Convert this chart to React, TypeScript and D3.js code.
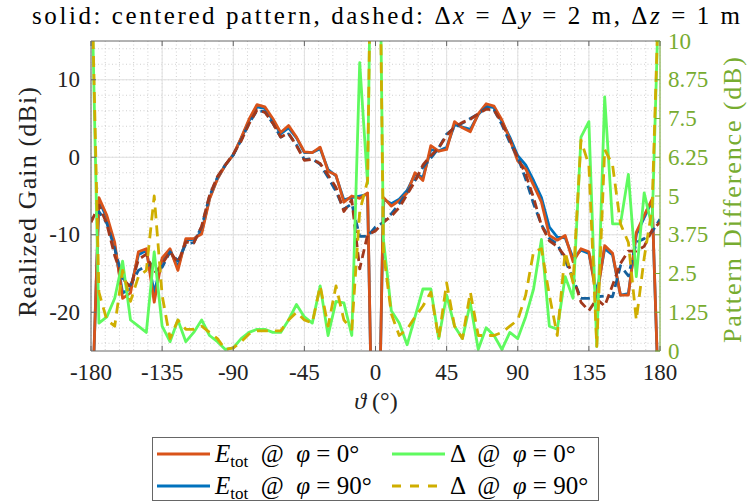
import * as d3 from "d3";

// polar angle samples (deg)
const thetaDeg = d3.range(-180, 181, 5);

// realized gain (dBi), centered pattern
const gainCentPhi0 = [
  -37, -5.2, -7.5, -11, -18.2, -17.5, -12.2, -11.8, -18.7, -13, -11.8, -14.6, -10.5, -10.5, -9.9, -5.4, -2.8, -1.0,
  0.3, 2.5, 4.9, 6.8, 6.5, 5.0, 3.2, 4.1, 2.6, 0.7, 0.6, 1.3, -1.8, -2.3, -5.8, -5.0, -5.3, -4.6,
  -60,
  -5.2, -6.3, -5.6, -4.6, -2.0, -3.0, 1.5, 0.8, 1.0, 4.6, 3.8, 3.3, 5.6, 6.9, 6.6, 4.8, 2.3, -0.5,
  -1.5, -3.6, -5.8, -10.1, -10.7, -10.1, -13.5, -11.8, -12.2, -18.2, -11.4, -12.4, -17.8, -17.8, -9.7, -7.5, -5.4, -37,
];
const gainCentPhi90 = [
  -37, -5.6, -7.8, -11.5, -17.5, -17.0, -12.6, -12.0, -17.5, -13.2, -12.0, -14.2, -10.7, -10.6, -9.6, -5.3, -2.7, -1.0,
  0.3, 2.4, 4.7, 6.5, 6.3, 4.8, 3.0, 3.8, 2.5, 0.6, 0.6, 1.1, -1.6, -2.4, -5.5, -5.2, -5.0, -4.8,
  -60,
  -5.4, -6.0, -5.4, -4.3, -2.2, -2.6, 1.0, 0.8, 1.3, 4.2, 3.9, 3.6, 5.5, 6.6, 6.4, 4.6, 2.6, 0.2,
  -1.0, -3.0, -5.2, -9.0, -10.3, -10.4, -13.0, -12.0, -12.4, -17.5, -11.8, -12.6, -17.8, -17.6, -10.0, -7.8, -5.6, -37,
];
// realized gain (dBi), shifted pattern (dashed)
const gainShiftPhi0 = [
  -8.4, -6.2, -8.6, -12.7, -15.6, -16.8, -13.2, -12.5, -15.0, -13.8, -12.2, -13.6, -10.9, -11.1, -8.9, -4.9, -2.5, -1.0,
  0.4, 2.1, 4.3, 6.1, 5.8, 4.4, 2.6, 3.1, 1.5, -0.4, -0.3, -0.8, -2.3, -3.9, -7.0, -5.5, -14.4, -10.0,
  -9.5,
  -8.4, -7.6, -6.5, -4.8, -3.1, -1.0, 0.2, 1.2, 2.8, 3.9, 4.5, 4.9, 5.6, 6.2, 6.1, 4.4, 2.2, 0.0,
  -2.2, -5.2, -8.8, -10.8, -11.5, -12.8, -15.4, -18.7, -19.8, -18.3, -19.2, -16.5, -13.7, -12.1, -12.1, -11.5, -9.4, -8.4,
];
const gainShiftPhi90 = [
  -8.0, -7.0, -8.5, -11.8, -15.6, -16.5, -14.6, -14.0, -13.7, -14.2, -12.2, -13.4, -11.2, -11.0, -9.0, -5.0, -2.6, -1.0,
  0.3, 2.2, 4.4, 6.0, 5.9, 4.4, 2.6, 3.0, 1.6, -0.3, -0.2, -0.9, -2.6, -4.4, -6.7, -6.0, -10.2, -10.2,
  -9.0,
  -8.4, -7.3, -6.0, -4.5, -3.0, -1.3, -0.1, 1.2, 3.0, 3.8, 4.4, 5.0, 5.6, 6.4, 6.1, 4.2, 1.9, 0.0,
  -2.8, -6.0, -8.7, -10.5, -11.2, -13.3, -15.7, -18.2, -18.2, -18.0, -17.9, -18.0, -14.0, -15.3, -11.0, -10.5, -9.6, -8.0,
];
// pattern difference (dB)
const diffPhi0 = [
  13, 0.9, 1.1, 1.7, 2.9, 1.0, 0.8, 0.6, 3.2, 0.8, 0.3, 1.0, 0.3, 0.6, 1.0, 0.5, 0.3, 0.05,
  0.1, 0.4, 0.6, 0.7, 0.7, 0.6, 0.6, 1.0, 1.5, 1.1, 0.9, 2.1, 0.5, 1.6, 1.55, 0.5, 9.3, 5.4,
  25,
  3.6, 1.3, 0.9, 0.2, 1.1, 2.0, 2.0, 0.4, 1.8, 0.8, 0.4, 1.55, 0.05, 0.75, 0.5, 0.05, 0.6, 0.4,
  1.1, 2.0, 3.6, 0.8, 0.7, 2.4, 1.7, 6.9, 7.4, 0.15, 8.2, 4.1, 4.1, 5.7, 2.4, 5.1, 4.0, 13,
];
const diffPhi90 = [
  13, 1.9, 1.0, 0.8, 2.6, 1.6, 2.4, 2.6, 5.0, 1.8, 0.4, 1.0, 0.7, 0.7, 0.8, 0.6, 0.4, 0.05,
  0.1, 0.3, 0.55, 0.65, 0.65, 0.65, 0.65, 1.0, 1.25, 1.0, 0.9, 2.1, 0.8, 2.1, 1.0, 0.7, 4.5, 5.5,
  25,
  3.2, 1.2, 0.5, 0.7, 1.1, 1.45, 1.9, 0.4, 2.2, 0.8, 0.4, 1.9, 0.5, 0.5, 0.5, 0.6, 0.8, 1.0,
  1.8, 3.2, 3.3, 1.8, 0.5, 3.2, 2.2, 6.8, 6.0, 0.15, 6.5, 6.0, 4.1, 3.5, 1.0, 3.0, 4.6, 13,
];

const xTicks = [-180, -135, -90, -45, 0, 45, 90, 135, 180];
const yTicks = [-20, -10, 0, 10];
const y2Ticks = [0, 1.25, 2.5, 3.75, 5, 6.25, 7.5, 8.75, 10];

const ORANGE = "#D95319";
const BLUE = "#0072BD";
const RED_D = "#A2381B";
const BLUE_D = "#15609C";
const GREEN = "#5FFA5F";
const GOLD = "#CFAE00";
const AXGREEN = "#77AC30";
const FONT = "Liberation Serif, DejaVu Serif, serif";

export default function App() {
  const left = 91, right = 660, top = 41, bottom = 351;
  const x = d3.scaleLinear([-180, 180], [left, right]);
  const y = d3.scaleLinear([-25, 15], [bottom, top]);
  const y2 = d3.scaleLinear([0, 10], [bottom, top]);
  const lineL = d3.line<number>((_, i) => x(thetaDeg[i]), (d) => y(d));
  const lineR = d3.line<number>((_, i) => x(thetaDeg[i]), (d) => y2(d));

  const minorX = d3.range(-180, 181, 9);
  const minorY = d3.range(-24, 15, 2);
  const sw = 2.8;

  const legendRow = (ly: number, lx: number, label: any, color: string, dash?: string) => (
    <g>
      <line x1={lx} x2={lx + 53} y1={ly} y2={ly} stroke={color} strokeWidth={3} strokeDasharray={dash} />
      <text x={lx + 58} y={ly + 8} fontSize={25} style={{ whiteSpace: "pre" }}>{label}</text>
    </g>
  );
  const eLabel = (deg: string) => (
    <>
      <tspan fontStyle="italic">E</tspan>
      <tspan fontSize={17} dy={5}>tot</tspan>
      <tspan dy={-5}>{"  @  "}</tspan>
      <tspan fontStyle="italic">φ</tspan>
      <tspan>{" = " + deg + "°"}</tspan>
    </>
  );
  const dLabel = (deg: string) => (
    <>
      <tspan>{"Δ  @  "}</tspan>
      <tspan fontStyle="italic">φ</tspan>
      <tspan>{" = " + deg + "°"}</tspan>
    </>
  );

  return (
    <svg width={749} height={502} style={{ position: "absolute", left: 0, top: 0, background: "#fff", fontFamily: FONT }}>
      <defs>
        <clipPath id="plotClip">
          <rect x={left} y={top} width={right - left} height={bottom - top} />
        </clipPath>
      </defs>

      {/* title */}
      <text x={32} y={24} fontSize={25} textLength={708} lengthAdjust="spacing" style={{ whiteSpace: "pre" }}>
        <tspan>{"solid: centered pattern, dashed: Δ"}</tspan>
        <tspan fontStyle="italic">x</tspan>
        <tspan>{" = Δ"}</tspan>
        <tspan fontStyle="italic">y</tspan>
        <tspan>{" = 2 m, Δ"}</tspan>
        <tspan fontStyle="italic">z</tspan>
        <tspan>{" = 1 m"}</tspan>
      </text>

      {/* grid */}
      <g>
        {minorX.map((v) => (
          <line key={"mx" + v} x1={x(v)} x2={x(v)} y1={top} y2={bottom} stroke="#c4c4c4" strokeWidth={0.8} strokeDasharray="1 2.5" />
        ))}
        {minorY.map((v) => (
          <line key={"my" + v} x1={left} x2={right} y1={y(v)} y2={y(v)} stroke="#c4c4c4" strokeWidth={0.8} strokeDasharray="1 2.5" />
        ))}
        {xTicks.map((v) => (
          <line key={"gx" + v} x1={x(v)} x2={x(v)} y1={top} y2={bottom} stroke="#e0e0e0" strokeWidth={1} />
        ))}
        {yTicks.map((v) => (
          <line key={"gy" + v} x1={left} x2={right} y1={y(v)} y2={y(v)} stroke="#e0e0e0" strokeWidth={1} />
        ))}
      </g>

      {/* data */}
      <g clipPath="url(#plotClip)" fill="none" strokeLinejoin="round">
        <path d={lineL(gainCentPhi90) ?? ""} stroke={BLUE} strokeWidth={sw} />
        <path d={lineL(gainCentPhi0) ?? ""} stroke={ORANGE} strokeWidth={sw} />
        <path d={lineL(gainShiftPhi90) ?? ""} stroke={BLUE_D} strokeWidth={sw} strokeDasharray="9 5" strokeDashoffset={7} />
        <path d={lineL(gainShiftPhi0) ?? ""} stroke={RED_D} strokeWidth={sw} strokeDasharray="9 5" />
        <path d={lineR(diffPhi0) ?? ""} stroke={GREEN} strokeWidth={sw} />
        <path d={lineR(diffPhi90) ?? ""} stroke={GOLD} strokeWidth={sw} strokeDasharray="11 7" />
      </g>

      {/* axes box */}
      <line x1={left} x2={right} y1={top} y2={top} stroke="#666" strokeWidth={1} />
      <line x1={left} x2={right} y1={bottom} y2={bottom} stroke="#666" strokeWidth={1} />
      <line x1={left} x2={left} y1={top} y2={bottom} stroke="#666" strokeWidth={1} />
      <line x1={right} x2={right} y1={top} y2={bottom} stroke={AXGREEN} strokeWidth={1} />

      {/* x ticks */}
      {xTicks.map((v) => (
        <g key={"xt" + v}>
          <line x1={x(v)} x2={x(v)} y1={bottom} y2={bottom - 5} stroke="#666" />
          <line x1={x(v)} x2={x(v)} y1={top} y2={top + 5} stroke="#666" />
          <text x={x(v)} y={bottom + 29} fontSize={23} textAnchor="middle" fill="#222">{v}</text>
        </g>
      ))}
      {/* left ticks */}
      {yTicks.map((v) => (
        <g key={"yt" + v}>
          <line x1={left} x2={left + 5} y1={y(v)} y2={y(v)} stroke="#666" />
          <text x={left - 11} y={y(v) + 7.5} fontSize={23} textAnchor="end" fill="#222">{v}</text>
        </g>
      ))}
      {/* right ticks */}
      {y2Ticks.map((v) => (
        <g key={"y2t" + v}>
          <line x1={right} x2={right - 5} y1={y2(v)} y2={y2(v)} stroke={AXGREEN} />
          <text x={right + 8} y={y2(v) + 7.5} fontSize={23} fill={AXGREEN}>{v}</text>
        </g>
      ))}

      {/* axis labels */}
      <text x={376} y={409} fontSize={24} textAnchor="middle" fill="#222">
        <tspan fontStyle="italic">ϑ</tspan>
        <tspan>{" (°)"}</tspan>
      </text>
      <text transform="translate(36,202) rotate(-90)" fontSize={26} textAnchor="middle" fill="#222" textLength={230} lengthAdjust="spacing">
        Realized Gain (dBi)
      </text>
      <text transform="translate(741,200) rotate(-90)" fontSize={26} textAnchor="middle" fill={AXGREEN} textLength={286} lengthAdjust="spacing">
        Pattern Difference (dB)
      </text>

      {/* legend */}
      <rect x={152.5} y={437.5} width={446} height={63} fill="#fff" stroke="#666" strokeWidth={1} />
      {legendRow(454, 157, eLabel("0"), ORANGE)}
      {legendRow(486, 157, eLabel("90"), BLUE)}
      {legendRow(454, 392, dLabel("0"), GREEN)}
      {legendRow(486, 392, dLabel("90"), GOLD, "9 9")}
    </svg>
  );
}
